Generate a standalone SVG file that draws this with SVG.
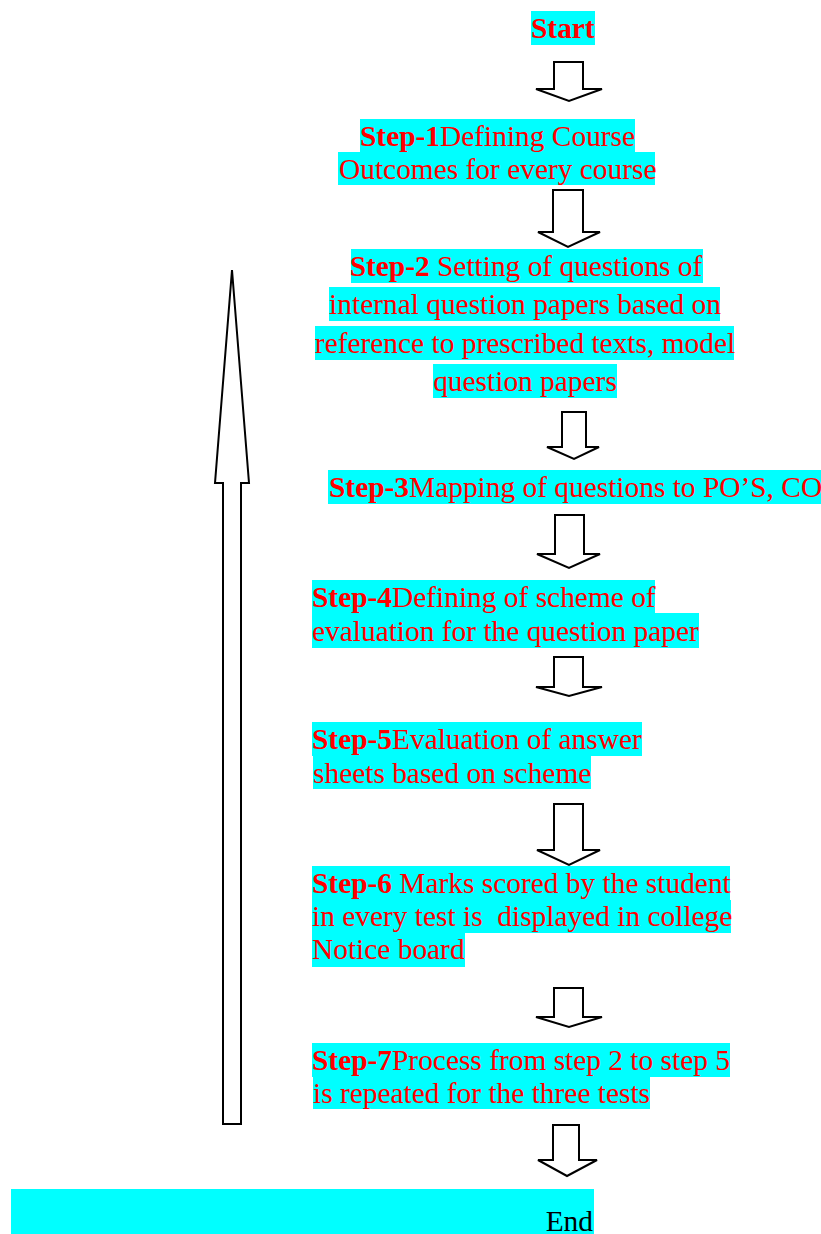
<svg xmlns="http://www.w3.org/2000/svg" width="821" height="1234" viewBox="0 0 821 1234">
<style>
.bg{fill:#00FFFF}
.t{font-family:"Liberation Serif","Times New Roman",serif;font-size:29.4px;fill:#FF0000;white-space:pre}
.b{font-weight:bold}
.end{fill:#000000}
.arr{fill:#FFFFFF;stroke:#000000;stroke-width:2;stroke-linejoin:miter}
</style>
<rect width="821" height="1234" fill="#FFFFFF"/>
<g id="connectors">
<polygon class="arr" points="554,62 583,62 583,89 602,89 569,101 536,89 554,89"/>
<polygon class="arr" points="553,190 583,190 583,232 600,232 568,247 538,232 553,232"/>
<polygon class="arr" points="562,412 586,412 586,447 599,447 574,459 547,447 562,447"/>
<polygon class="arr" points="555,515 584,515 584,554 600,554 569,568 537,554 555,554"/>
<polygon class="arr" points="554,657 583,657 583,687 602,687 569,696 536,687 554,687"/>
<polygon class="arr" points="554,804 583,804 583,850 600,850 569,865 537,850 554,850"/>
<polygon class="arr" points="554,988 583,988 583,1017 602,1017 569,1027 536,1017 554,1017"/>
<polygon class="arr" points="553,1125 579,1125 579,1160 597,1160 567,1176 538,1160 553,1160"/>
<polygon id="loop-arrow" class="arr" points="232,270 249,483 241,483 241,1124 223,1124 223,483 215,483"/>
</g>
<g id="start">
<rect class="bg" x="531" y="11" width="64" height="34"/>
<text class="t b" x="531" y="38">Start</text>
</g>
<g id="step1">
<rect class="bg" x="360" y="119" width="275" height="33"/>
<rect class="bg" x="338" y="152" width="317" height="33"/>
<text class="t" x="360" y="146"><tspan class="b">Step-1</tspan>Defining Course</text>
<text class="t" x="339" y="179">Outcomes for every course</text>
</g>
<g id="step2">
<rect class="bg" x="351" y="249" width="352" height="34"/>
<rect class="bg" x="329" y="287" width="391" height="34"/>
<rect class="bg" x="315" y="326" width="419" height="34"/>
<rect class="bg" x="433" y="364" width="184" height="34"/>
<text class="t" x="526" y="276" text-anchor="middle"><tspan class="b">Step-2</tspan> Setting of questions of</text>
<text class="t" x="525" y="314" text-anchor="middle">internal question papers based on</text>
<text class="t" x="525" y="353" text-anchor="middle">reference to prescribed texts, model</text>
<text class="t" x="525" y="391" text-anchor="middle">question papers</text>
</g>
<g id="step3">
<rect class="bg" x="328" y="470" width="493" height="34"/>
<text class="t" x="329" y="497"><tspan class="b">Step-3</tspan>Mapping of questions to PO’S, CO</text>
</g>
<g id="step4">
<rect class="bg" x="312" y="580" width="343" height="33"/>
<rect class="bg" x="312" y="613" width="387" height="35"/>
<text class="t" x="312" y="607"><tspan class="b">Step-4</tspan>Defining of scheme of</text>
<text class="t" x="312" y="641">evaluation for the question paper</text>
</g>
<g id="step5">
<rect class="bg" x="312" y="722" width="330" height="34"/>
<rect class="bg" x="313" y="756" width="278" height="33"/>
<text class="t" x="312" y="749"><tspan class="b">Step-5</tspan>Evaluation of answer</text>
<text class="t" x="313" y="783">sheets based on scheme</text>
</g>
<g id="step6">
<rect class="bg" x="312" y="866" width="418" height="34"/>
<rect class="bg" x="312" y="900" width="419" height="33"/>
<rect class="bg" x="312" y="933" width="153" height="34"/>
<text class="t" x="312" y="893"><tspan class="b">Step-6</tspan> Marks scored by the student</text>
<text class="t" x="312" y="926">in every test is  displayed in college</text>
<text class="t" x="312" y="959">Notice board</text>
</g>
<g id="step7">
<rect class="bg" x="312" y="1043" width="418" height="34"/>
<rect class="bg" x="313" y="1077" width="337" height="32"/>
<text class="t" x="312" y="1070"><tspan class="b">Step-7</tspan>Process from step 2 to step 5</text>
<text class="t" x="313" y="1103">is repeated for the three tests</text>
</g>
<g id="end">
<rect class="bg" x="11" y="1189" width="583" height="45"/>
<text class="t end" x="593" y="1231" text-anchor="end">End</text>
</g>
</svg>
